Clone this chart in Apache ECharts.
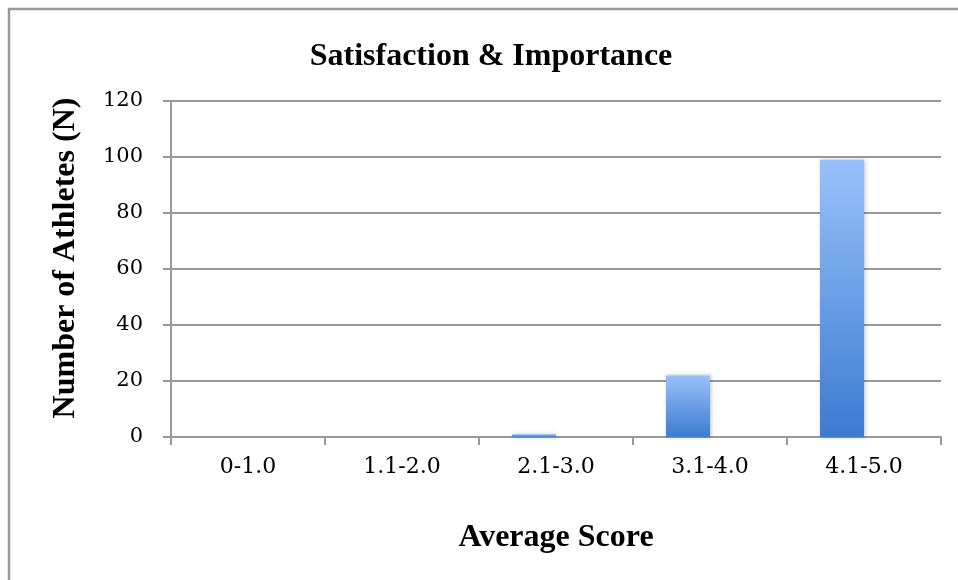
<!DOCTYPE html>
<html>
<head>
<meta charset="utf-8">
<script src="https://cdn.jsdelivr.net/npm/echarts@6/dist/echarts.min.js"></script>
<style>
  html, body { margin: 0; padding: 0; background: #fff; }
  #chart { width: 958px; height: 580px; }
</style>
</head>
<body>
<div id="chart"></div>
<script>
// Score bands on the x axis
var categories = ['0-1.0', '1.1-2.0', '2.1-3.0', '3.1-4.0', '4.1-5.0'];
// Number of athletes per band
var athleteCounts = [0, 0, 1, 22, 99];
// Companion series slot (no values recorded)
var companionCounts = [null, null, null, null, null];
// Value axis ticks
var yTicks = [0, 20, 40, 60, 80, 100, 120];

var serif = '"Liberation Serif", "Times New Roman", serif';
var tickFont = '"DejaVu Serif", serif';

var chart = echarts.init(document.getElementById('chart'), null, { renderer: 'canvas' });

chart.setOption({
  backgroundColor: '#ffffff',
  animation: false,
  graphic: [{
    type: 'rect',
    shape: { x: 9, y: 9, width: 1200, height: 1200 },
    style: { fill: 'none', stroke: '#9a9a9a', lineWidth: 2.5 },
    silent: true,
    z: -1
  }, {
    // vertical axis title
    type: 'text',
    x: 66,
    y: 258,
    rotation: Math.PI / 2,
    style: {
      text: 'Number of Athletes (N)',
      font: 'bold 32px ' + serif,
      fill: '#000',
      align: 'center',
      verticalAlign: 'middle'
    },
    silent: true
  }],
  title: {
    text: 'Satisfaction & Importance',
    left: 486,
    textAlign: 'center',
    top: 36,
    textStyle: { fontFamily: serif, fontWeight: 'bold', fontSize: 32, color: '#000' }
  },
  grid: { left: 171, right: 17, top: 101, bottom: 143, containLabel: false },
  xAxis: {
    type: 'category',
    data: categories,
    name: 'Average Score',
    nameLocation: 'middle',
    nameGap: 85,
    nameTextStyle: { fontFamily: serif, fontWeight: 'bold', fontSize: 32, color: '#000' },
    axisLine: { lineStyle: { color: '#999', width: 2 } },
    axisTick: { show: true, length: 8, lineStyle: { color: '#999', width: 2 } },
    axisLabel: { fontFamily: tickFont, fontSize: 22, color: '#000', margin: 19 }
  },
  yAxis: {
    type: 'value',
    min: yTicks[0],
    max: yTicks[yTicks.length - 1],
    interval: yTicks[1] - yTicks[0],
    axisLine: { show: true, lineStyle: { color: '#999', width: 2 } },
    axisTick: { show: true, length: 8, lineStyle: { color: '#999', width: 2 } },
    axisLabel: { fontFamily: tickFont, fontSize: 21, color: '#000', margin: 28 },
    splitLine: { show: true, lineStyle: { color: '#999', width: 2 } }
  },
  series: [{
    type: 'bar',
    name: 'Satisfaction',
    data: athleteCounts,
    barWidth: 44,
    barGap: '0%',
    itemStyle: {
      color: new echarts.graphic.LinearGradient(0, 0, 0, 1, [
        { offset: 0, color: '#98c1fb' },
        { offset: 1, color: '#3c7bd0' }
      ]),
      shadowColor: 'rgba(0,0,0,0.25)',
      shadowBlur: 4,
      shadowOffsetX: 1,
      shadowOffsetY: 0
    }
  }, {
    type: 'bar',
    name: 'Importance',
    data: companionCounts,
    barWidth: 44,
    barGap: '0%'
  }]
});
</script>
</body>
</html>
